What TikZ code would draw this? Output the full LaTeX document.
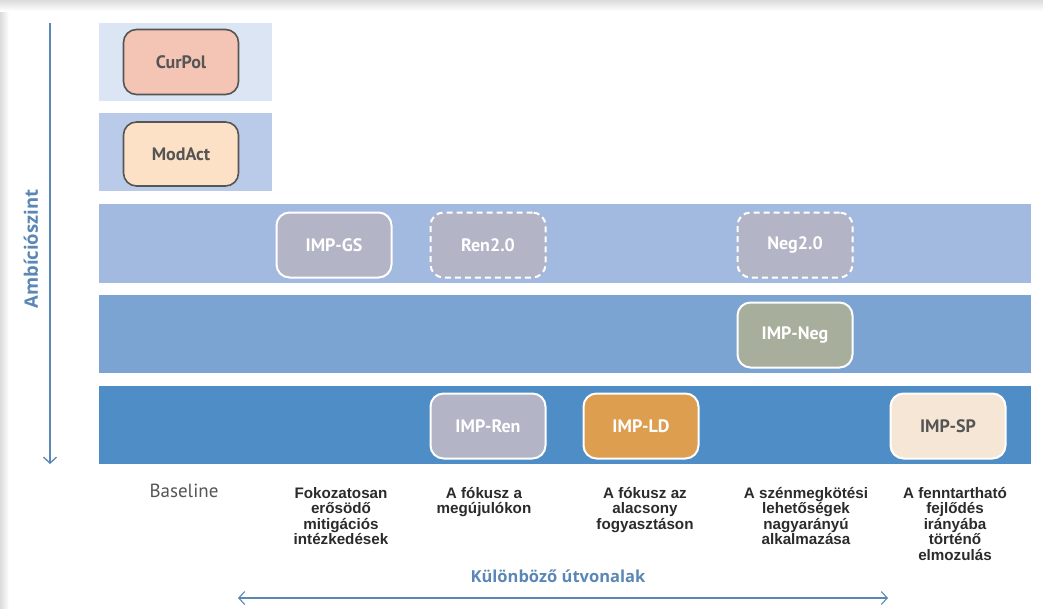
\documentclass[tikz,border=0pt]{standalone}
\usepackage{fontspec}
\usetikzlibrary{arrows.meta}
\newfontfamily\nodefont{PT Sans}
\newfontfamily\labfont{Liberation Sans}
\newfontfamily\axfont{Open Sans}
\definecolor{axisblue}{HTML}{5A87B5}
\definecolor{bandA}{HTML}{DCE5F3}
\definecolor{bandB}{HTML}{BACBE9}
\definecolor{bandC}{HTML}{A2BAE0}
\definecolor{bandD}{HTML}{7CA4D3}
\definecolor{bandE}{HTML}{4F8DC6}
\definecolor{boxgray}{HTML}{B3B4C5}
\definecolor{boxolive}{HTML}{A8AE9C}
\definecolor{boxorange}{HTML}{DE9E50}
\definecolor{boxcream}{HTML}{F6E6D6}
\definecolor{boxsalmon}{HTML}{F4C5B5}
\definecolor{boxpeach}{HTML}{FCE1C7}
\definecolor{txtgray}{HTML}{555555}
\definecolor{labtxt}{HTML}{2B2B2B}
\tikzset{
  box/.style={rounded corners=13pt, minimum width=115pt, minimum height=65pt,
    inner sep=0pt, font=\nodefont\bfseries\fontsize{18}{20}\selectfont, line width=2pt},
  topbox/.style={box, draw=txtgray, text=txtgray, line width=1.6pt},
  impbox/.style={box, draw=white, text=white},
  dashbox/.style={impbox, dash pattern=on 6pt off 4pt},
  lab/.style={align=center, anchor=north, text=labtxt, inner sep=0pt,
    font=\labfont\bfseries\fontsize{15.2}{15.5}\selectfont},
  axisline/.style={draw=axisblue, line width=1.3pt},
}
\begin{document}
\begin{tikzpicture}[x=1pt,y=-1pt]
\useasboundingbox (0,0) rectangle (1043,608);
\fill[white] (0,0) rectangle (1043,608);
% shadow edges
\shade[left color=black!14, right color=white] (0,0) rectangle (9,608);
\shade[top color=black!14, bottom color=white] (0,0) rectangle (1043,11);
% bands
\fill[bandA] (99,23) rectangle (272,101);
\fill[bandB] (99,113) rectangle (272,191);
\fill[bandC] (99,204) rectangle (1031,283);
\fill[bandD] (99,295) rectangle (1031,373);
\fill[bandE] (99,386) rectangle (1031,464);
% nodes
\node[topbox, fill=boxsalmon] (curpol) at (181,62) {CurPol};
\node[topbox, fill=boxpeach, minimum height=64pt] (modact) at (181,154) {ModAct};
\node[impbox, fill=boxgray] (impgs) at (334,245) {IMP-GS};
\node[dashbox, fill=boxgray] (ren2) at (488,245) {Ren2.0};
\node[dashbox, fill=boxgray] (neg2) at (795,245) {Neg2.0};
\node[impbox, fill=boxolive] (impneg) at (795,335) {IMP-Neg};
\node[impbox, fill=boxgray] (impren) at (488,426) {IMP-Ren};
\node[impbox, fill=boxorange] (impld) at (641,426) {IMP-LD};
\node[impbox, fill=boxcream, text=txtgray] (impsp) at (948,426) {IMP-SP};
% vertical axis
\coordinate (axtop) at (50,23);
\coordinate (axbot) at (50,464);
\draw[axisline, -{Straight Barb[length=6pt,width=13pt]}] (axtop) -- (axbot);
\node[rotate=90, text=axisblue, font=\axfont\bfseries\fontsize{18.5}{20}\selectfont] (ambi) at (31,249) {Ambíciószint};
% bottom labels
\node[anchor=north, text=txtgray, inner sep=0pt, font=\nodefont\fontsize{19}{21}\selectfont] (l0) at (184,484) {Baseline};
\node[lab] (l1) at (341,487) {Fokozatosan\\erősödő\\mitigációs\\intézkedések};
\node[lab] (l2) at (484,487) {A fókusz a\\megújulókon};
\node[lab] (l3) at (645,487) {A fókusz az\\alacsony\\fogyasztáson};
\node[lab] (l4) at (806,487) {A szénmegkötési\\lehetőségek\\nagyarányú\\alkalmazása};
\node[lab] (l5) at (955,487) {A fenntartható\\fejlődés\\irányába\\történő\\elmozulás};
\node[text=axisblue, font=\axfont\fontsize{16.5}{18}\selectfont\bfseries] (utv) at (558,576) {Különböző útvonalak};
\coordinate (hl) at (238,598);
\coordinate (hr) at (888,598);
\draw[axisline, line width=1.1pt, {Straight Barb[length=6pt,width=13pt]}-{Straight Barb[length=6pt,width=13pt]}] (hl) -- (hr);
\end{tikzpicture}
\end{document}
